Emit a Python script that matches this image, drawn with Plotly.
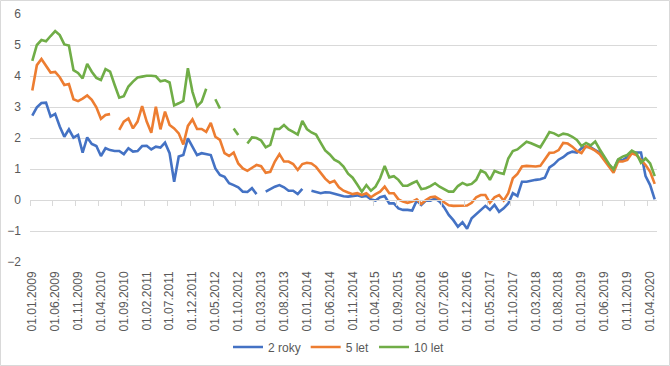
import plotly.graph_objects as go

# monthly observations 01.01.2009 .. 01.05.2020
months = [f"01.{m:02d}.{y}" for y in range(2009, 2021) for m in range(1, 13)][:137]

tick_labels = ["01.01.2009", "01.06.2009", "01.11.2009", "01.04.2010", "01.09.2010",
               "01.02.2011", "01.07.2011", "01.12.2011", "01.05.2012", "01.10.2012",
               "01.03.2013", "01.08.2013", "01.01.2014", "01.06.2014", "01.11.2014",
               "01.04.2015", "01.09.2015", "01.02.2016", "01.07.2016", "01.12.2016",
               "01.05.2017", "01.10.2017", "01.03.2018", "01.08.2018", "01.01.2019",
               "01.06.2019", "01.11.2019", "01.04.2020"]

roky2 = [2.72, 2.99, 3.13, 3.14, 2.69, 2.78, 2.37, 2.04, 2.28, 2.01,
         2.10, 1.53, 2.02, 1.81, 1.74, 1.42, 1.67, 1.61, 1.58, 1.58,
         1.48, 1.67, 1.56, 1.58, 1.74, 1.75, 1.63, 1.72, 1.69, 1.85,
         1.51, 0.59, 1.40, 1.45, 1.99, 1.74, 1.45, 1.51, 1.48, 1.45,
         1.02, 0.81, 0.75, 0.54, 0.48, 0.41, 0.27, 0.26, 0.38, 0.19,
         None, 0.27, 0.36, 0.43, 0.48, 0.41, 0.30, 0.30, 0.19, 0.36,
         None, 0.30, 0.27, 0.22, 0.25, 0.24, 0.20, 0.15, 0.12, 0.11,
         0.12, 0.15, 0.11, 0.13, 0.02, -0.02, 0.09, 0.13, -0.11, -0.11,
         -0.27, -0.32, -0.32, -0.34, -0.02, -0.16, -0.02, -0.02, 0.05, -0.05,
         -0.24, -0.48, -0.65, -0.86, -0.72, -0.93, -0.59, -0.45, -0.34, -0.19,
         -0.32, -0.16, -0.38, -0.27, -0.11, 0.22, 0.13, 0.59, 0.59, 0.63,
         0.65, 0.67, 0.72, 1.05, 1.15, 1.30, 1.38, 1.50, 1.56, 1.53,
         1.67, 1.72, 1.70, 1.61, 1.53, 1.31, 1.13, 0.97, 1.29, 1.29,
         1.38, 1.53, 1.53, 1.53, 0.77, 0.48, 0.02]

let5 = [3.53, 4.35, 4.55, 4.33, 4.11, 4.13, 3.96, 3.71, 3.74, 3.25,
        3.19, 3.27, 3.37, 3.23, 2.99, 2.62, 2.74, 2.77, None, 2.26,
        2.53, 2.63, 2.31, 2.53, 3.03, 2.53, 2.17, 3.01, 2.28, 2.85,
        2.42, 2.31, 2.15, 1.79, 2.39, 2.60, 2.29, 2.29, 2.20, 2.49,
        2.04, 1.94, 1.51, 1.42, 1.53, 1.18, 1.02, 0.94, 1.03, 1.13,
        1.09, 0.88, 0.91, 1.24, 1.48, 1.24, 1.24, 1.16, 0.97, 1.16,
        1.20, 1.18, 1.07, 0.87, 0.69, 0.56, 0.62, 0.41, 0.30, 0.24,
        0.19, 0.22, 0.16, 0.22, 0.09, 0.19, 0.27, 0.43, 0.22, 0.22,
        0.02, -0.05, -0.09, -0.05, 0.02, -0.13, 0.00, 0.09, 0.11, 0.02,
        -0.09, -0.17, -0.19, -0.19, -0.17, -0.18, -0.09, 0.09, 0.16, 0.16,
        -0.09, 0.09, 0.16, -0.02, 0.22, 0.70, 0.84, 1.08, 1.10, 1.08,
        1.08, 1.10, 1.32, 1.52, 1.53, 1.61, 1.84, 1.82, 1.72, 1.58,
        1.51, 1.74, 1.67, 1.59, 1.48, 1.29, 1.08, 0.88, 1.24, 1.24,
        1.29, 1.51, 1.45, 1.29, 1.13, 0.91, 0.52]

let10 = [4.49, 5.00, 5.16, 5.12, 5.29, 5.45, 5.32, 5.02, 4.98, 4.19,
         4.10, 3.92, 4.39, 4.14, 3.94, 3.87, 4.22, 4.14, 3.71, 3.30,
         3.35, 3.66, 3.82, 3.95, 3.98, 4.01, 4.01, 3.99, 3.83, 3.86,
         3.79, 3.05, 3.12, 3.20, 4.25, 3.49, 3.02, 3.17, 3.59, None,
         3.25, 2.95, None, None, 2.31, 2.10, None, 1.82, 2.02, 2.00,
         1.92, 1.70, 1.78, 2.29, 2.29, 2.42, 2.28, 2.20, 2.11, 2.55,
         2.29, 2.18, 2.11, 1.85, 1.60, 1.47, 1.30, 1.22, 1.08, 0.85,
         0.72, 0.50, 0.27, 0.48, 0.30, 0.43, 0.70, 1.10, 0.73, 0.77,
         0.65, 0.46, 0.46, 0.54, 0.61, 0.35, 0.38, 0.45, 0.54, 0.43,
         0.35, 0.27, 0.27, 0.45, 0.55, 0.48, 0.52, 0.65, 0.95, 0.88,
         0.65, 0.94, 0.88, 0.84, 1.34, 1.58, 1.63, 1.75, 1.88, 1.83,
         1.76, 1.70, 1.94, 2.19, 2.15, 2.07, 2.14, 2.11, 2.04, 1.94,
         1.74, 1.84, 1.76, 1.89, 1.63, 1.40, 1.16, 0.99, 1.31, 1.40,
         1.45, 1.59, 1.51, 1.20, 1.34, 1.18, 0.77]

series = [("2 roky", roky2, "#4472C4"), ("5 let", let5, "#ED7D31"), ("10 let", let10, "#70AD47")]

idx = list(range(len(months)))
FONT = "Liberation Sans"
GRID = "#d9d9d9"
TXT = "#595959"

fig = go.Figure()
for name, vals, col in series:
    fig.add_trace(go.Scatter(x=idx, y=vals, name=name, mode="lines",
                             line=dict(color=col, width=2.6), connectgaps=False,
                             customdata=months, hovertemplate="%{customdata}: %{y}<extra>" + name + "</extra>"))
# carrier for the category axis drawn at y = 0
fig.add_trace(go.Scatter(x=[None], y=[None], xaxis="x2", showlegend=False, hoverinfo="skip"))

W, H = 670, 366
L, R, T, B = 30, 13, 14, 104
pw, ph = W - L - R, H - T - B
n = len(months)
tick_pos = [months.index(t) for t in tick_labels]
bound_pos = [p - 0.5 for p in tick_pos]

fig.update_layout(
    width=W, height=H,
    margin=dict(l=L, r=R, t=T, b=B, autoexpand=False),
    paper_bgcolor="white", plot_bgcolor="white",
    font=dict(family=FONT, size=12, color=TXT),
    showlegend=True,
    legend=dict(orientation="h", xref="container", yref="container",
                x=339 / W, xanchor="center", y=1 - 347 / H, yanchor="middle",
                font=dict(family=FONT, size=12, color=TXT),
                itemwidth=30, tracegroupgap=0),
    xaxis=dict(range=[-0.5, n - 0.5], tickmode="array", tickvals=tick_pos, ticktext=tick_labels,
               tickangle=-90, ticks="", showgrid=False, zeroline=False, showline=False,
               automargin=False,
               tickfont=dict(family=FONT, size=12, color=TXT), ticklabelstandoff=6),
    xaxis2=dict(overlaying="x", anchor="free", position=0.25, range=[-0.5, n - 0.5],
                tickmode="array", tickvals=bound_pos, ticks="outside", ticklen=5,
                tickcolor=GRID, tickwidth=1, showticklabels=False, showline=True,
                linecolor=GRID, linewidth=1, showgrid=False, zeroline=False, automargin=False),
    yaxis=dict(range=[-2, 6], dtick=1, showgrid=True, gridcolor=GRID, gridwidth=1,
               zeroline=False, showline=False, ticks="", automargin=False,
               tickfont=dict(family=FONT, size=12, color=TXT), ticklabelstandoff=8),
    shapes=[dict(type="rect", xref="paper", yref="paper",
                 x0=-(L - 0.5) / pw, x1=1 + (R - 0.5) / pw,
                 y0=-(B - 0.5) / ph, y1=1 + (T - 0.5) / ph,
                 line=dict(color=GRID, width=1), layer="below")],
)

fig.write_html("out.html", config={"displayModeBar": False},
               post_script="document.body.style.margin='0';document.body.style.overflow='hidden';")
